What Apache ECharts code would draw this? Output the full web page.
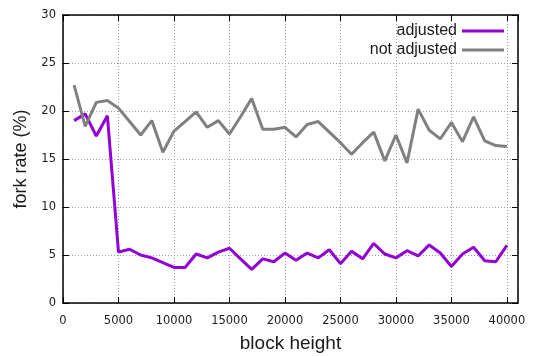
<!DOCTYPE html>
<html>
<head>
<meta charset="utf-8">
<script src="https://cdn.jsdelivr.net/npm/echarts@6/dist/echarts.min.js"></script>
<style>
  html, body { margin: 0; padding: 0; background: #fff; }
  #main { width: 537px; height: 356px; }
</style>
</head>
<body>
<div id="main"></div>
<script>
var blockHeights = [1000, 2000, 3000, 4000, 5000, 6000, 7000, 8000, 9000, 10000,
  11000, 12000, 13000, 14000, 15000, 16000, 17000, 18000, 19000, 20000,
  21000, 22000, 23000, 24000, 25000, 26000, 27000, 28000, 29000, 30000,
  31000, 32000, 33000, 34000, 35000, 36000, 37000, 38000, 39000, 40000];

var adjusted = [19.0, 19.7, 17.4, 19.5, 5.3, 5.6, 5.0, 4.7, 4.2, 3.7,
  3.7, 5.1, 4.7, 5.3, 5.7, 4.6, 3.5, 4.6, 4.3, 5.2,
  4.45, 5.2, 4.7, 5.55, 4.1, 5.4, 4.6, 6.2, 5.1, 4.7,
  5.45, 4.9, 6.05, 5.2, 3.8, 5.1, 5.8, 4.4, 4.3, 6.0];

var notAdjusted = [22.7, 18.4, 20.9, 21.1, 20.3, 18.9, 17.5, 19.0, 15.7, 17.9,
  18.9, 19.9, 18.3, 19.0, 17.6, 19.4, 21.3, 18.1, 18.1, 18.3,
  17.3, 18.6, 18.9, 17.8, 16.7, 15.5, 16.7, 17.8, 14.8, 17.5,
  14.6, 20.2, 18.0, 17.1, 18.8, 16.8, 19.4, 16.9, 16.4, 16.3];

function pairs(ys) {
  return blockHeights.map(function (x, i) { return [x, ys[i]]; });
}

var chart = echarts.init(document.getElementById('main'));
var font = "'Liberation Sans', Arial, sans-serif";
var tickFont = "'DejaVu Sans', sans-serif";
var gridLine = { show: true, lineStyle: { color: '#a0a0a0', type: [1, 2], width: 1 } };
var frame = { show: true, onZero: false, lineStyle: { color: '#000', width: 1.5 } };
var ticks = { show: true, inside: true, length: 6, lineStyle: { color: '#000', width: 1 } };

var option = {
  animation: false,
  textStyle: { fontFamily: font },
  grid: { left: 63, right: 19, top: 15, bottom: 53, outerBoundsMode: 'none', containLabel: false },
  legend: {
    orient: 'vertical',
    right: 33,
    top: 23,
    padding: 0,
    align: 'right',
    itemWidth: 42,
    itemHeight: 3,
    itemGap: 3,
    icon: 'rect',
    textStyle: { fontSize: 16, color: '#1a1a1a', fontFamily: font },
    data: ['adjusted', 'not adjusted']
  },
  xAxis: [{
    type: 'value',
    min: 0, max: 41000, interval: 5000,
    name: 'block height',
    nameLocation: 'middle',
    nameGap: 31,
    nameTextStyle: { fontSize: 19, color: '#1a1a1a', fontFamily: font },
    axisLine: frame,
    axisTick: ticks,
    axisLabel: {
      fontSize: 11.5, color: '#1a1a1a', fontFamily: tickFont, margin: 12,
      showMaxLabel: false,
      formatter: function (v) { return String(v); }
    },
    splitLine: gridLine
  }, {
    type: 'value', position: 'top',
    min: 0, max: 41000, interval: 5000,
    axisLine: frame,
    axisTick: ticks,
    axisLabel: { show: false },
    splitLine: { show: false }
  }],
  yAxis: [{
    type: 'value',
    min: 0, max: 30, interval: 5,
    name: 'fork rate (%)',
    nameLocation: 'middle',
    nameGap: 33,
    nameTextStyle: { fontSize: 18, color: '#1a1a1a', fontFamily: font },
    axisLine: frame,
    axisTick: ticks,
    axisLabel: { fontSize: 11.5, color: '#1a1a1a', fontFamily: tickFont, margin: 7 },
    splitLine: gridLine
  }, {
    type: 'value', position: 'right',
    min: 0, max: 30, interval: 5,
    axisLine: frame,
    axisTick: ticks,
    axisLabel: { show: false },
    splitLine: { show: false }
  }],
  series: [{
    name: 'adjusted',
    type: 'line',
    data: pairs(adjusted),
    showSymbol: false,
    color: '#9400d3',
    lineStyle: { width: 3, color: '#9400d3' }
  }, {
    name: 'not adjusted',
    type: 'line',
    data: pairs(notAdjusted),
    showSymbol: false,
    color: '#808080',
    lineStyle: { width: 3, color: '#808080' }
  }]
};

chart.setOption(option);
</script>
</body>
</html>
